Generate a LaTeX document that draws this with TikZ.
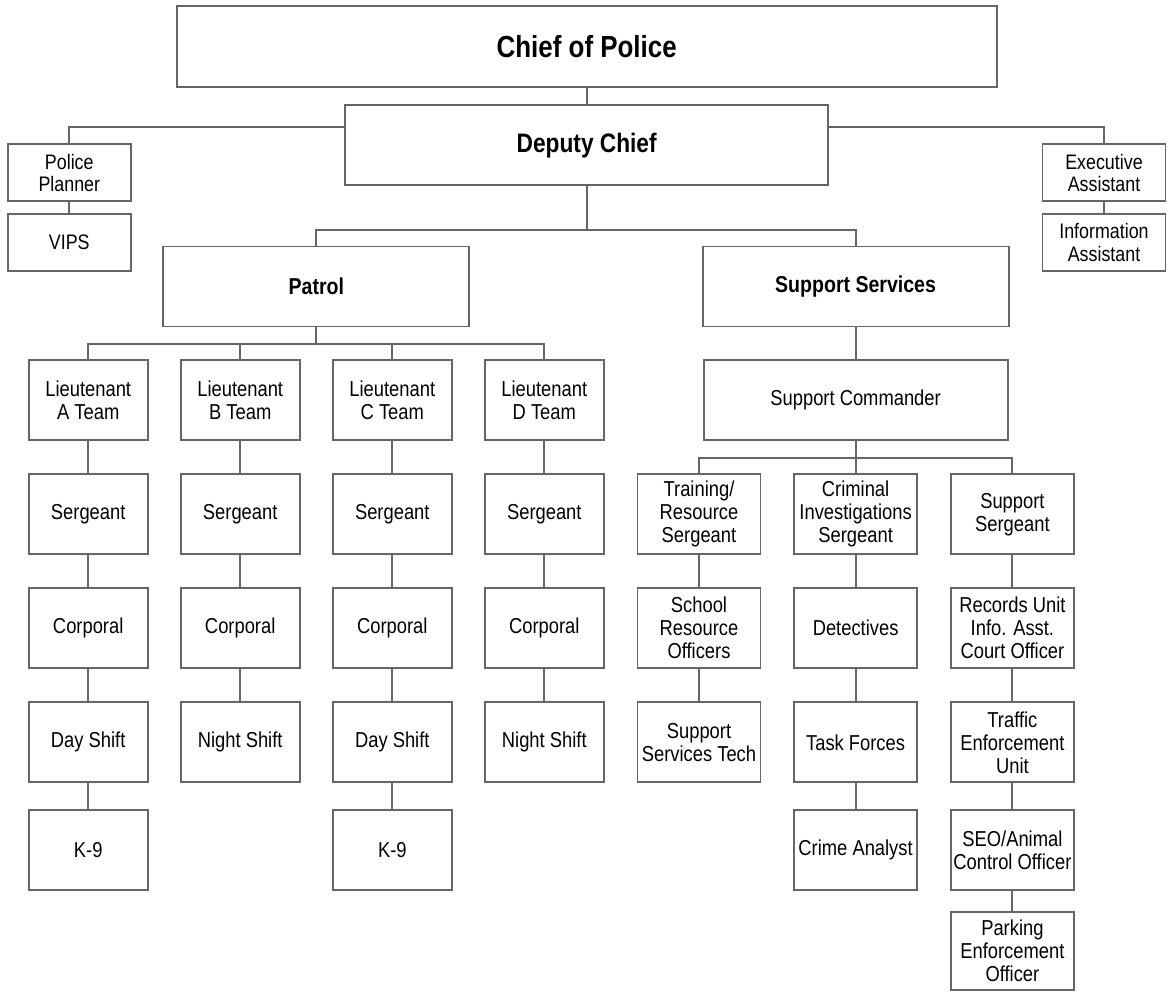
\documentclass[tikz,border=0pt]{standalone}
\usepackage{fontspec}
\setmainfont{Liberation Sans}[FakeStretch=0.85]
\usetikzlibrary{calc}

\begin{document}
\begin{tikzpicture}[x=1pt,y=-1pt,
  box/.style={draw=black!60,line width=1.9pt,align=center,inner sep=2pt,
    font=\fontsize{21.6}{23}\selectfont},
  col/.style={box,minimum width=119pt,minimum height=80pt},
  sub/.style={box,minimum width=123pt,minimum height=80pt},
  side/.style={box,minimum width=123pt,minimum height=57pt,font=\fontsize{21}{22.4}\selectfont},
  head/.style={box,minimum width=306pt,minimum height=80pt,font=\fontsize{23}{25}\selectfont\bfseries},
  link/.style={draw=black!60,line width=1.9pt}]
  \useasboundingbox (0,0) rectangle (1171,992);
  \node[box,minimum width=820pt,minimum height=81pt,font=\fontsize{30.5}{32}\selectfont\bfseries] (chief) at (586.7,46.5) {Chief of Police};
  \node[box,minimum width=483pt,minimum height=80pt,font=\fontsize{26.7}{28}\selectfont\bfseries] (deputy) at (586.7,145.3) {Deputy Chief};
  \draw[link] (chief) -- (deputy);

  \node[side] (planner) at (69.3,172.7) {Police\\Planner};
  \node[side] (vips) at (69.3,242.3) {VIPS};
  \node[side] (exec) at (1104,172.7) {Executive\\Assistant};
  \node[side] (info) at (1104,242.3) {Information\\Assistant};
  \draw[link] ([yshift=-22.4pt]deputy.north west) -| (planner.north);
  \draw[link] ([yshift=-22.4pt]deputy.north east) -| (exec.north);
  \draw[link] (planner) -- (vips);
  \draw[link] (exec) -- (info);

  \node[head] (patrol) at (316.3,286.5) {Patrol};
  \node[head] (support) at (855.6,286.5) {Support Services};
  \draw[link] (deputy.south) -- ++(0,44) coordinate (dbar);
  \draw[link] (patrol.north) |- (dbar) -| (support.north);

  \foreach \tm/\x/\sh in {A/88.2/Day Shift,B/240.2/Night Shift,C/392.3/Day Shift,D/544.3/Night Shift}{
    \node[col] (lt\tm) at (\x,400.3) {Lieutenant\\\tm\ Team};
    \node[col] (sgt\tm) at (\x,514.3) {Sergeant};
    \node[col] (cpl\tm) at (\x,628.1) {Corporal};
    \node[col] (shift\tm) at (\x,742.3) {\sh};
    \draw[link] (lt\tm) -- (sgt\tm) (sgt\tm) -- (cpl\tm) (cpl\tm) -- (shift\tm);
  }
  \node[col] (kA) at (88.2,850) {K-9};
  \node[col] (kC) at (392.3,850) {K-9};
  \draw[link] (shiftA) -- (kA);
  \draw[link] (shiftC) -- (kC);
  \draw[link] (patrol.south) -- ++(0,16.6) coordinate (pbar);
  \draw[link] (ltA.north) |- (pbar) -| (ltD.north);
  \draw[link] (ltB.north) -- (ltB.north |- pbar);
  \draw[link] (ltC.north) -- (ltC.north |- pbar);

  \node[box,minimum width=304pt,minimum height=80pt] (cmdr) at (855.6,400.3) {Support Commander};
  \draw[link] (support) -- (cmdr);
  \node[sub] (train) at (699,514.3) {Training/\\Resource\\Sergeant};
  \node[sub] (sro) at (699,628.1) {School\\Resource\\Officers};
  \node[sub] (tech) at (699,742.3) {Support\\Services Tech};
  \node[sub] (crim) at (855.6,514.3) {Criminal\\Investigations\\Sergeant};
  \node[sub] (det) at (855.6,628.1) {Detectives};
  \node[sub] (task) at (855.6,742.3) {Task Forces};
  \node[sub] (analyst) at (855.6,850) {Crime Analyst};
  \node[sub] (supsgt) at (1012.4,514.3) {Support\\Sergeant};
  \node[sub] (records) at (1012.4,628.1) {Records Unit\\Info. Asst.\\Court Officer};
  \node[sub] (traffic) at (1012.4,742.3) {Traffic\\Enforcement\\Unit};
  \node[sub] (seo) at (1012.4,850) {SEO/Animal\\Control Officer};
  \node[sub,minimum height=78pt] (parking) at (1012.4,951.2) {Parking\\Enforcement\\Officer};
  \draw[link] (cmdr.south) -- ++(0,16.5) coordinate (cbar);
  \draw[link] (train.north) |- (cbar) -| (supsgt.north);
  \draw[link] (crim.north) -- (crim.north |- cbar);
  \draw[link] (train) -- (sro) (sro) -- (tech);
  \draw[link] (crim) -- (det) (det) -- (task) (task) -- (analyst);
  \draw[link] (supsgt) -- (records) (records) -- (traffic) (traffic) -- (seo) (seo) -- (parking);
\end{tikzpicture}
\end{document}
